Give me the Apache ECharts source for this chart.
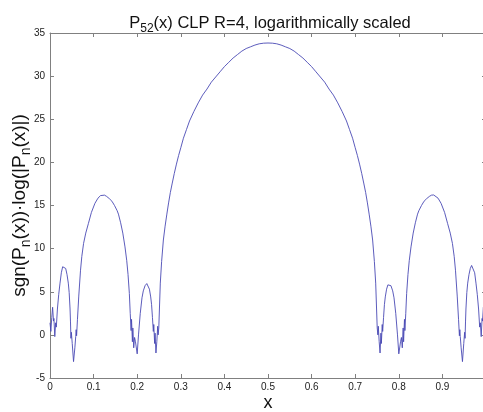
<!DOCTYPE html>
<html>
<head>
<meta charset="utf-8">
<script src="https://cdn.jsdelivr.net/npm/echarts@6/dist/echarts.min.js"></script>
<style>
html,body{margin:0;padding:0;background:#fff;}
#c{width:483px;height:412px;}
</style>
</head>
<body>
<div id="c"></div>
<script>
var curvePoints = [
  [0,1.4],[0.002,0.4],[0.004,2.0],[0.006,3.2],[0.008,1.6],[0.009,1.9],[0.011,-0.2],[0.013,1.4],
  [0.0145,0.9],[0.017,3.0],[0.02,4.7],[0.023,6.0],[0.026,7.2],[0.029,7.9],[0.031,8.1],[0.033,8.05],
  [0.036,7.7],[0.039,7.0],[0.042,6.0],[0.044,4.9],[0.046,3.0],[0.047,1.5],[0.048,-0.4],[0.049,0.3],
  [0.051,-1.0],[0.054,-3.1],[0.057,-1.5],[0.059,-0.2],[0.06,0.6],[0.061,-0.1],[0.063,1.8],[0.066,4.5],
  [0.07,7.5],[0.073,9.1],[0.077,10.6],[0.082,11.8],[0.088,12.9],[0.095,14.2],[0.103,15.25],[0.11,15.85],
  [0.116,16.15],[0.12,16.22],[0.125,16.2],[0.13,16.05],[0.136,15.8],[0.142,15.5],[0.148,15.0],[0.154,14.4],
  [0.157,14.0],[0.162,13.0],[0.167,11.8],[0.172,10.2],[0.176,8.6],[0.179,7.0],[0.182,4.8],[0.184,2.5],
  [0.186,0.5],[0.187,1.8],[0.189,-0.8],[0.19,0.8],[0.192,-1.5],[0.194,-0.3],[0.196,-0.8],[0.2,-2.2],
  [0.203,0.0],[0.207,2.5],[0.211,4.3],[0.214,5.1],[0.218,5.7],[0.222,5.95],[0.225,5.8],[0.228,5.3],
  [0.231,4.4],[0.233,3.5],[0.235,2.0],[0.237,0.4],[0.238,1.2],[0.24,-1.0],[0.241,0.2],[0.243,-2.1],
  [0.245,-0.8],[0.247,1.0],[0.248,0.0],[0.2495,0.8],[0.251,3.0],[0.253,6.0],[0.256,8.5],[0.26,11.0],
  [0.264,12.6],[0.268,14.0],[0.272,15.3],[0.276,16.5],[0.28,17.5],[0.285,18.7],[0.29,19.8],[0.295,20.8],
  [0.3,21.7],[0.306,22.8],[0.313,23.8],[0.32,24.8],[0.33,25.9],[0.34,26.9],[0.35,27.8],[0.36,28.5],
  [0.37,29.3],[0.38,29.9],[0.39,30.5],[0.4,31.1],[0.41,31.6],[0.42,32.1],[0.43,32.5],[0.44,32.9],
  [0.45,33.2],[0.46,33.4],[0.47,33.6],[0.48,33.75],[0.49,33.82],[0.5,33.84],
  [0.51,33.82],[0.52,33.75],[0.53,33.6],[0.54,33.4],[0.55,33.2],[0.56,32.9],[0.57,32.5],[0.58,32.1],
  [0.59,31.6],[0.6,31.1],[0.61,30.5],[0.62,29.9],[0.63,29.3],[0.64,28.5],[0.65,27.8],[0.66,26.9],
  [0.67,25.9],[0.68,24.8],[0.687,23.8],[0.694,22.8],[0.7,21.7],[0.705,20.8],[0.71,19.8],[0.715,18.7],
  [0.72,17.5],[0.724,16.5],[0.728,15.3],[0.732,14.0],[0.736,12.6],[0.74,11.0],[0.744,8.5],[0.747,6.0],
  [0.749,3.0],[0.7505,0.8],[0.752,0.0],[0.753,1.0],[0.755,-0.8],[0.757,-2.1],[0.759,0.2],[0.76,-1.0],
  [0.762,1.2],[0.763,0.4],[0.765,2.0],[0.767,3.5],[0.769,4.4],[0.772,5.3],[0.775,5.8],[0.778,5.95],
  [0.782,5.7],[0.786,5.1],[0.789,4.3],[0.793,2.5],[0.797,0.0],[0.8,-2.2],[0.804,-0.8],[0.806,-0.3],
  [0.808,-1.5],[0.81,0.8],[0.811,-0.8],[0.813,1.8],[0.814,0.5],[0.816,2.5],[0.818,4.8],[0.821,7.0],
  [0.824,8.6],[0.828,10.2],[0.833,11.8],[0.838,13.0],[0.843,14.0],[0.846,14.4],[0.852,15.0],[0.858,15.5],
  [0.864,15.8],[0.87,16.05],[0.875,16.2],[0.88,16.22],[0.884,16.15],[0.89,15.85],[0.897,15.25],[0.905,14.2],
  [0.912,12.9],[0.918,11.8],[0.923,10.6],[0.927,9.1],[0.93,7.5],[0.934,4.5],[0.937,1.8],[0.939,-0.1],
  [0.94,0.6],[0.941,-0.2],[0.943,-1.5],[0.946,-3.1],[0.949,-1.0],[0.951,0.3],[0.952,-0.4],[0.953,1.5],
  [0.954,3.0],[0.956,4.9],[0.958,6.0],[0.961,7.0],[0.964,7.7],[0.967,8.05],[0.969,8.1],[0.971,7.9],
  [0.974,7.2],[0.977,6.0],[0.98,4.7],[0.983,3.0],[0.9855,0.9],[0.987,1.4],[0.989,-0.2],[0.991,1.9],
  [0.992,1.6],[0.994,3.2],[0.996,2.0],[0.998,0.4],[1.0,1.4]
];
var xTickLabels = ['0', '0.1', '0.2', '0.3', '0.4', '0.5', '0.6', '0.7', '0.8', '0.9', '1'];
var yTickLabels = ['-5', '0', '5', '10', '15', '20', '25', '30', '35'];

var axisGray = '#808080';
var font = 'Liberation Sans, Arial, sans-serif';

var chart = echarts.init(document.getElementById('c'), null, {renderer: 'canvas'});
chart.setOption({
  animation: false,
  backgroundColor: '#ffffff',
  title: {
    text: '{a|P}{s|52}{a|(x) CLP R=4, logarithmically scaled}',
    left: 265, top: 7, textAlign: 'center',
    textStyle: {
      rich: {
        a: {fontFamily: font, fontSize: 16.5, color: '#111', fontWeight: 'normal'},
        s: {fontFamily: font, fontSize: 12, color: '#111', fontWeight: 'normal', verticalAlign: 'bottom', padding: [11, 0, 0, 0]}
      }
    }
  },
  grid: {left: 50, top: 33, width: 436, height: 345, containLabel: false, outerBoundsMode: 'none'},
  xAxis: [{
    type: 'value', min: 0, max: 1, interval: 0.1, position: 'bottom',
    name: 'x', nameLocation: 'middle', nameGap: 16, nameMoveOverlap: false,
    nameTextStyle: {fontFamily: font, fontSize: 18, color: '#111'},
    axisLine: {show: true, onZero: false, lineStyle: {color: axisGray, width: 1}},
    axisTick: {show: true, inside: true, length: 4, lineStyle: {color: axisGray}},
    axisLabel: {fontFamily: font, fontSize: 10, color: '#222', margin: 4,
      formatter: function (v) { return xTickLabels[Math.round(v * 10)]; }},
    splitLine: {show: false}
  }, {
    type: 'value', min: 0, max: 1, interval: 0.1, position: 'top',
    axisLine: {show: true, onZero: false, lineStyle: {color: axisGray, width: 1}},
    axisTick: {show: true, inside: true, length: 4, lineStyle: {color: axisGray}},
    axisLabel: {show: false}, splitLine: {show: false}
  }],
  yAxis: [{
    type: 'value', min: -5, max: 35, interval: 5, position: 'left',
    name: '{a|sgn(P}{s|n}{a|(x))·log(|P}{s|n}{a|(x)|)}',
    nameLocation: 'middle', nameGap: 17, nameRotate: 90, nameMoveOverlap: false,
    nameTextStyle: {
      rich: {
        a: {fontFamily: font, fontSize: 19, color: '#111'},
        s: {fontFamily: font, fontSize: 14, color: '#111', verticalAlign: 'bottom', padding: [12, 0, 0, 0]}
      }
    },
    axisLine: {show: true, onZero: false, lineStyle: {color: axisGray, width: 1}},
    axisTick: {show: true, inside: true, length: 4, lineStyle: {color: axisGray}},
    axisLabel: {fontFamily: font, fontSize: 10, color: '#222', margin: 5,
      formatter: function (v) { return yTickLabels[Math.round((v + 5) / 5)]; }},
    splitLine: {show: false}
  }, {
    type: 'value', min: -5, max: 35, interval: 5, position: 'right',
    axisLine: {show: true, onZero: false, lineStyle: {color: axisGray, width: 1}},
    axisTick: {show: true, inside: true, length: 4, lineStyle: {color: axisGray}},
    axisLabel: {show: false}, splitLine: {show: false}
  }],
  series: [{
    type: 'line',
    xAxisIndex: 0, yAxisIndex: 0,
    data: curvePoints,
    showSymbol: false,
    smooth: false,
    clip: true,
    lineStyle: {color: '#4a4ab4', width: 0.9}
  }]
});
</script>
</body>
</html>
